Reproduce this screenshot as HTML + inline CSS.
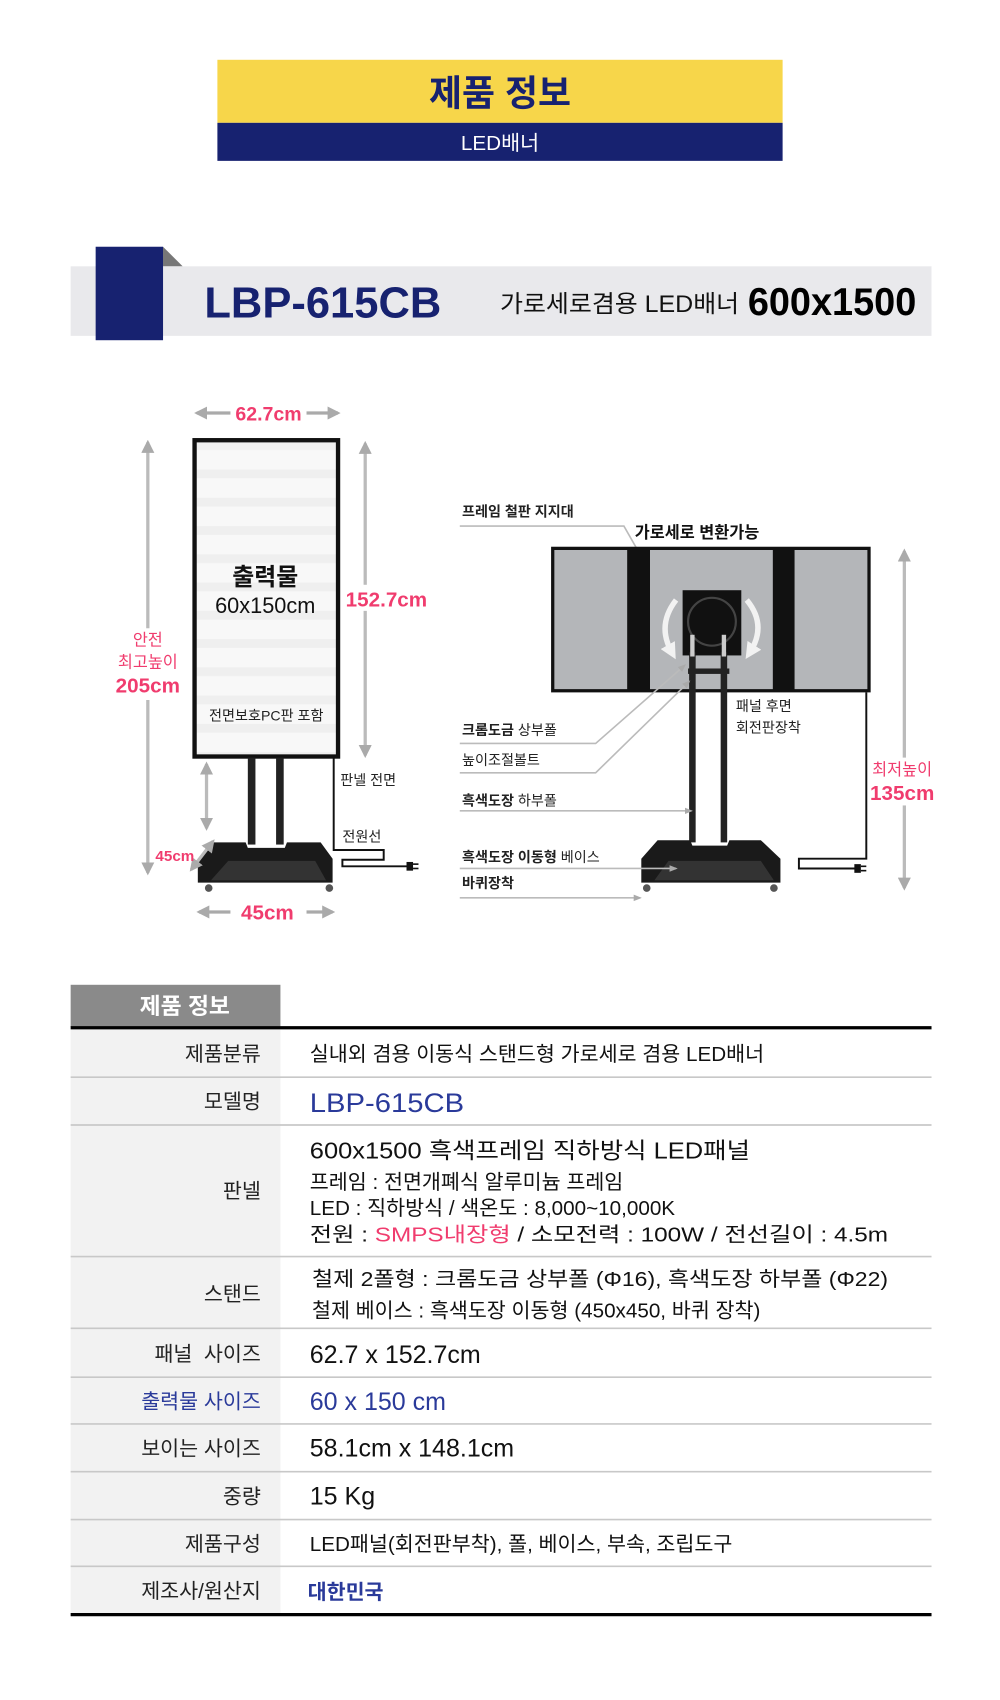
<!DOCTYPE html>
<html><head><meta charset="utf-8"><style>
html,body{margin:0;padding:0;background:#fff}
svg{display:block}
text{font-family:"Liberation Sans","Noto Sans CJK KR",sans-serif}
</style></head><body>
<svg width="1000" height="1700" viewBox="0 0 920 1564" xmlns="http://www.w3.org/2000/svg">
<defs>
<marker id="ag" viewBox="0 0 10 10" refX="8" refY="5" markerWidth="4" markerHeight="4" orient="auto-start-reverse"><path d="M0,0L10,5L0,10z" fill="#aaa"/></marker>
<marker id="as" viewBox="0 0 10 10" refX="8" refY="5" markerWidth="5" markerHeight="5" orient="auto"><path d="M0,1L10,5L0,9z" fill="#aaa"/></marker>
<marker id="aw" viewBox="0 0 10 10" refX="5" refY="5" markerWidth="3" markerHeight="3" orient="auto"><path d="M0,0L10,5L0,10z" fill="#f2f2f2"/></marker>
<pattern id="st" width="10" height="26" patternUnits="userSpaceOnUse"><rect width="10" height="26" fill="#f8f8f8"/><rect y="16" width="10" height="8" fill="#efefef"/></pattern>
</defs>

<rect x="200" y="55" width="520" height="58" fill="#f7d64a"/>
<text x="460" y="97" text-anchor="middle" font-size="33" font-weight="bold" fill="#172270">제품 정보</text>
<rect x="200" y="113" width="520" height="35" fill="#172270"/>
<text x="460" y="138" text-anchor="middle" font-size="19" fill="#fff">LED배너</text>

<rect x="65" y="245" width="792" height="64" fill="#e9e9ec"/>
<path d="M150,227 L168,245 L150,245z" fill="#777"/>
<rect x="88" y="227" width="62" height="86" fill="#172270"/>
<text x="188" y="292" font-size="40" font-weight="bold" fill="#172270" textLength="218" lengthAdjust="spacingAndGlyphs">LBP-615CB</text>
<text x="460" y="287" font-size="22" fill="#111" textLength="220" lengthAdjust="spacingAndGlyphs">가로세로겸용 LED배너</text>
<text x="688" y="290" font-size="36" font-weight="bold" fill="#000" textLength="155" lengthAdjust="spacingAndGlyphs">600x1500</text>

<line x1="181" y1="380" x2="311" y2="380" stroke="#aaa" stroke-width="3" marker-start="url(#ag)" marker-end="url(#ag)"/>
<rect x="212" y="368" width="70" height="22" fill="#fff"/>
<text x="247" y="387" text-anchor="middle" font-size="18" font-weight="bold" fill="#f03c6e">62.7cm</text>

<line x1="136" y1="407" x2="136" y2="803" stroke="#bbb" stroke-width="3" marker-start="url(#ag)" marker-end="url(#ag)"/>
<rect x="104" y="578" width="64" height="66" fill="#fff"/>
<text x="136" y="594" text-anchor="middle" font-size="15" fill="#f03c6e">안전</text>
<text x="136" y="614" text-anchor="middle" font-size="15" fill="#f03c6e">최고높이</text>
<text x="136" y="637" text-anchor="middle" font-size="19" font-weight="bold" fill="#f03c6e">205cm</text>

<line x1="336" y1="408" x2="336" y2="695" stroke="#bbb" stroke-width="3" marker-start="url(#ag)" marker-end="url(#ag)"/>
<rect x="316" y="538" width="80" height="24" fill="#fff"/>
<text x="318" y="558" font-size="19" font-weight="bold" fill="#f03c6e">152.7cm</text>

<rect x="179" y="405" width="132" height="291" fill="url(#st)" stroke="#111" stroke-width="4"/>
<text x="244" y="538" text-anchor="middle" font-size="22" font-weight="bold" fill="#111">출력물</text>
<text x="244" y="564" text-anchor="middle" font-size="20" fill="#111">60x150cm</text>
<text x="245" y="663" text-anchor="middle" font-size="13" fill="#222">전면보호PC판 포함</text>

<line x1="190" y1="703" x2="190" y2="762" stroke="#bbb" stroke-width="3" marker-start="url(#ag)" marker-end="url(#ag)"/>
<rect x="228" y="697" width="7" height="80" fill="#222"/>
<rect x="254" y="697" width="7" height="80" fill="#222"/>
<path d="M195,775 L226,775 L228,780 L262,780 L264,775 L295,775 L306,790 L306,812 L182,812 L182,790z" fill="#1a1a1a"/>
<path d="M210,792 L290,792 L300,810 L194,810z" fill="#333"/>
<circle cx="192" cy="817" r="3.5" fill="#555"/><circle cx="303" cy="817" r="3.5" fill="#555"/>
<line x1="176" y1="800" x2="196" y2="774" stroke="#bbb" stroke-width="3" marker-start="url(#ag)" marker-end="url(#ag)"/>
<text x="143" y="792" font-size="14" font-weight="bold" fill="#f03c6e">45cm</text>
<line x1="183" y1="839" x2="306" y2="839" stroke="#aaa" stroke-width="3" marker-start="url(#ag)" marker-end="url(#ag)"/>
<rect x="212" y="826" width="70" height="24" fill="#fff"/>
<text x="246" y="846" text-anchor="middle" font-size="19" font-weight="bold" fill="#f03c6e">45cm</text>

<path d="M307,697 L307,782 L353,782 L353,791 L315,791 L315,797 L375,797" fill="none" stroke="#111" stroke-width="1.8"/>
<rect x="374" y="793" width="6" height="8" fill="#111"/><line x1="380" y1="795" x2="385" y2="795" stroke="#111" stroke-width="1.5"/><line x1="380" y1="799" x2="385" y2="799" stroke="#111" stroke-width="1.5"/>
<text x="313" y="722" font-size="13" fill="#222">판넬 전면</text>
<text x="315" y="774" font-size="13" fill="#222">전원선</text>

<text x="425" y="475" font-size="13" font-weight="bold" fill="#222">프레임 철판 지지대</text>
<path d="M423,484 L574,484 L590,512" fill="none" stroke="#bbb" stroke-width="1.5" marker-end="url(#as)"/>
<text x="584" y="495" font-size="15" font-weight="bold" fill="#111">가로세로 변환가능</text>

<rect x="507" y="503" width="294" height="134" fill="#111"/>
<rect x="510" y="506" width="67" height="128" fill="#b4b6b9"/>
<rect x="598" y="506" width="113" height="128" fill="#b4b6b9"/>
<rect x="731" y="506" width="67" height="128" fill="#b4b6b9"/>
<path d="M622,552 Q604,575 618,600" fill="none" stroke="#f2f2f2" stroke-width="5" marker-end="url(#aw)"/>
<path d="M687,552 Q706,575 690,600" fill="none" stroke="#f2f2f2" stroke-width="5" marker-end="url(#aw)"/>
<rect x="628" y="543" width="54" height="60" fill="#111"/>
<circle cx="655" cy="572" r="22" fill="none" stroke="#444" stroke-width="2"/>
<rect x="633" y="615" width="38" height="5" fill="#222"/>
<rect x="634" y="600" width="6" height="175" fill="#222"/>
<rect x="663" y="600" width="6" height="175" fill="#222"/>
<rect x="635" y="584" width="4" height="20" fill="#ccc"/>
<rect x="664" y="584" width="4" height="20" fill="#ccc"/>
<path d="M605,773 L635,773 L637,778 L669,778 L671,773 L700,773 L718,790 L718,812 L590,812 L590,790z" fill="#1a1a1a"/>
<path d="M615,792 L700,792 L712,810 L602,810z" fill="#333"/>
<circle cx="595" cy="817" r="3.5" fill="#555"/><circle cx="712" cy="817" r="3.5" fill="#555"/>

<text x="425" y="676" font-size="13" font-weight="bold" fill="#222">크롬도금 <tspan font-weight="normal">상부폴</tspan></text>
<path d="M423,684 L548,684 L630,612" fill="none" stroke="#bbb" stroke-width="1.5" marker-end="url(#as)"/>
<text x="425" y="704" font-size="13" fill="#222">높이조절볼트</text>
<path d="M423,711 L548,711 L634,627" fill="none" stroke="#bbb" stroke-width="1.5" marker-end="url(#as)"/>
<text x="425" y="741" font-size="13" font-weight="bold" fill="#222">흑색도장 <tspan font-weight="normal">하부폴</tspan></text>
<line x1="423" y1="746" x2="636" y2="746" stroke="#bbb" stroke-width="1.5" marker-end="url(#as)"/>
<text x="425" y="793" font-size="13" font-weight="bold" fill="#222">흑색도장 이동형 <tspan font-weight="normal">베이스</tspan></text>
<line x1="423" y1="799" x2="622" y2="799" stroke="#bbb" stroke-width="1.5" marker-end="url(#as)"/>
<text x="425" y="817" font-size="13" font-weight="bold" fill="#222">바퀴장착</text>
<line x1="423" y1="826" x2="589" y2="826" stroke="#bbb" stroke-width="1.5" marker-end="url(#as)"/>

<text x="677" y="654" font-size="13" fill="#222">패널 후면</text>
<text x="677" y="674" font-size="13" fill="#222">회전판장착</text>

<path d="M797,637 L797,790 L735,790 L735,799 L788,799" fill="none" stroke="#111" stroke-width="1.8"/>
<rect x="786" y="795" width="6" height="8" fill="#111"/><line x1="792" y1="797" x2="797" y2="797" stroke="#111" stroke-width="1.5"/><line x1="792" y1="801" x2="797" y2="801" stroke="#111" stroke-width="1.5"/>

<line x1="832" y1="507" x2="832" y2="817" stroke="#bbb" stroke-width="3" marker-start="url(#ag)" marker-end="url(#ag)"/>
<rect x="800" y="697" width="60" height="44" fill="#fff"/>
<text x="830" y="713" text-anchor="middle" font-size="15" fill="#f03c6e">최저높이</text>
<text x="830" y="736" text-anchor="middle" font-size="19" font-weight="bold" fill="#f03c6e">135cm</text>

<rect x="65" y="906" width="193" height="39" fill="#8a8a8a"/>
<text x="170" y="933" text-anchor="middle" font-size="21" font-weight="bold" fill="#fff">제품 정보</text>
<rect x="65" y="946" width="193" height="539" fill="#f2f2f2"/>
<line x1="65" y1="945.5" x2="857" y2="945.5" stroke="#000" stroke-width="3"/>
<g stroke="#c8c8c8" stroke-width="1.5">
<line x1="65" y1="991" x2="857" y2="991"/><line x1="65" y1="1035" x2="857" y2="1035"/>
<line x1="65" y1="1156" x2="857" y2="1156"/><line x1="65" y1="1222" x2="857" y2="1222"/>
<line x1="65" y1="1267" x2="857" y2="1267"/><line x1="65" y1="1310" x2="857" y2="1310"/>
<line x1="65" y1="1354" x2="857" y2="1354"/><line x1="65" y1="1398" x2="857" y2="1398"/>
<line x1="65" y1="1441" x2="857" y2="1441"/>
</g>
<line x1="65" y1="1485.5" x2="857" y2="1485.5" stroke="#000" stroke-width="3"/>

<g font-size="19" fill="#222" text-anchor="end">
<text x="240" y="976">제품분류</text>
<text x="240" y="1020">모델명</text>
<text x="240" y="1102">판넬</text>
<text x="240" y="1197">스탠드</text>
<text x="240" y="1252">패널&#160; 사이즈</text>
<text x="240" y="1296" fill="#2a3a9a">출력물 사이즈</text>
<text x="240" y="1339">보이는 사이즈</text>
<text x="240" y="1383">중량</text>
<text x="240" y="1427">제품구성</text>
<text x="240" y="1470">제조사/원산지</text>
</g>
<g fill="#111">
<text x="285" y="976" font-size="19">실내외 겸용 이동식 스탠드형 가로세로 겸용 LED배너</text>
<text x="285" y="1023" font-size="25" fill="#2a3a9a" textLength="142" lengthAdjust="spacingAndGlyphs">LBP-615CB</text>
<text x="285" y="1066" font-size="21" textLength="405" lengthAdjust="spacingAndGlyphs">600x1500 흑색프레임 직하방식 LED패널</text>
<text x="285" y="1094" font-size="19">프레임 : 전면개폐식 알루미늄 프레임</text>
<text x="285" y="1118" font-size="19">LED : 직하방식 / 색온도 : 8,000~10,000K</text>
<text x="285" y="1142" font-size="19" textLength="532" lengthAdjust="spacingAndGlyphs">전원 : <tspan fill="#f03c6e">SMPS내장형</tspan> / 소모전력 : 100W / 전선길이 : 4.5m</text>
<text x="287" y="1183" font-size="19" textLength="530" lengthAdjust="spacingAndGlyphs">철제 2폴형 : 크롬도금 상부폴 (Φ16), 흑색도장 하부폴 (Φ22)</text>
<text x="287" y="1212" font-size="19">철제 베이스 : 흑색도장 이동형 (450x450, 바퀴 장착)</text>
<text x="285" y="1254" font-size="23">62.7 x 152.7cm</text>
<text x="285" y="1297" font-size="23" fill="#2a3a9a">60 x 150 cm</text>
<text x="285" y="1340" font-size="23">58.1cm x 148.1cm</text>
<text x="285" y="1384" font-size="23">15 Kg</text>
<text x="285" y="1427" font-size="19">LED패널(회전판부착), 폴, 베이스, 부속, 조립도구</text>
<text x="283" y="1471" font-size="19" font-weight="bold" fill="#2a3a9a">대한민국</text>
</g>
</svg>
</body></html>
